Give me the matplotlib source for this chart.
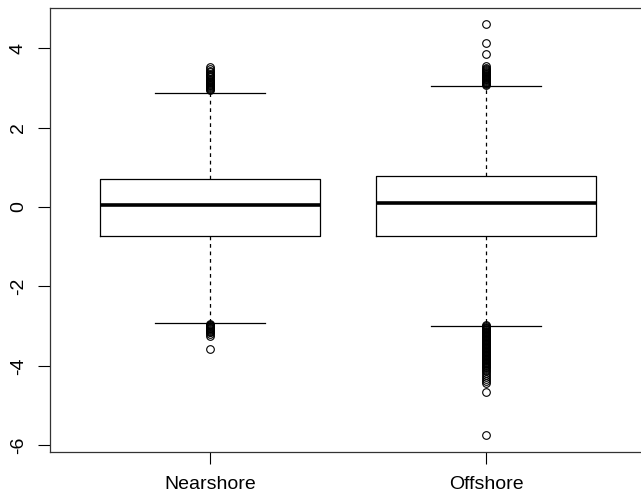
import matplotlib
matplotlib.use("Agg")
import matplotlib.pyplot as plt

plt.rcParams['font.family'] = ['Liberation Sans', 'DejaVu Sans']

categories = ["Nearshore", "Offshore"]
whislo = [-2.92, -3.00]
q1 = [-0.73, -0.73]
med = [0.05, 0.10]
q3 = [0.71, 0.78]
whishi = [2.87, 3.05]
fliers = [
    [2.95, 2.98, 3.0, 3.02, 3.04, 3.06, 3.08, 3.1, 3.12, 3.15, 3.18, 3.2, 3.23,
     3.26, 3.3, 3.33, 3.36, 3.4, 3.43, 3.48, 3.53,
     -2.94, -2.96, -2.98, -3.0, -3.02, -3.04, -3.06, -3.08, -3.1, -3.12, -3.14,
     -3.16, -3.2, -3.25, -3.57],
    [3.07, 3.09, 3.11, 3.13, 3.15, 3.17, 3.19, 3.21, 3.23, 3.25, 3.28, 3.3,
     3.33, 3.35, 3.38, 3.4, 3.43, 3.45, 3.48, 3.5, 3.55, 3.85, 4.12, 4.6,
     -2.98, -3.0, -3.02, -3.04, -3.06, -3.08, -3.1, -3.12, -3.14, -3.16, -3.18,
     -3.2, -3.22, -3.24, -3.26, -3.28, -3.3, -3.32, -3.34, -3.36, -3.38, -3.4,
     -3.42, -3.44, -3.46, -3.48, -3.5, -3.52, -3.54, -3.56, -3.58, -3.6, -3.62,
     -3.64, -3.66, -3.68, -3.7, -3.72, -3.74, -3.76, -3.78, -3.8, -3.82, -3.84,
     -3.86, -3.88, -3.9, -3.92, -3.94, -3.96, -3.98, -4.0, -4.03, -4.06, -4.1,
     -4.14, -4.18, -4.22, -4.27, -4.32, -4.38, -4.42, -4.65, -5.75],
]
yticks = [-6, -4, -2, 0, 2, 4]

fig = plt.figure(figsize=(6.41, 5.01), dpi=100)
ax = fig.add_axes([50/641, 49/501, 596/641, 444/501])

stats = []
for i in range(2):
    stats.append(dict(label=categories[i], whislo=whislo[i], q1=q1[i], med=med[i],
                      q3=q3[i], whishi=whishi[i], fliers=fliers[i]))

ax.bxp(stats, positions=[1, 2], widths=0.8, showfliers=True,
       boxprops=dict(color='black', linewidth=0.9),
       medianprops=dict(color='black', linewidth=2.6, solid_capstyle='butt'),
       whiskerprops=dict(color='black', linewidth=0.9, linestyle=(0, (3, 3))),
       capprops=dict(color='black', linewidth=0.9),
       capwidths=0.4,
       flierprops=dict(marker='o', markerfacecolor='none', markeredgecolor='black',
                       markersize=5.5, markeredgewidth=0.8))

ax.set_xlim(0.42, 2.58)
ax.set_ylim(-6.17, 5.01)
ax.set_yticks(yticks)
ax.set_yticklabels([str(t) for t in yticks], rotation=90, va='center')
ax.set_xticks([1, 2])
ax.set_xticklabels(categories)
ax.tick_params(axis='both', length=8.6, width=0.8, labelsize=14, colors='black')
ax.tick_params(axis='x', pad=9)
ax.tick_params(axis='y', pad=8)
for s in ax.spines.values():
    s.set_color('#333333')
    s.set_linewidth(0.9)

fig.savefig("out.png", dpi=100)
